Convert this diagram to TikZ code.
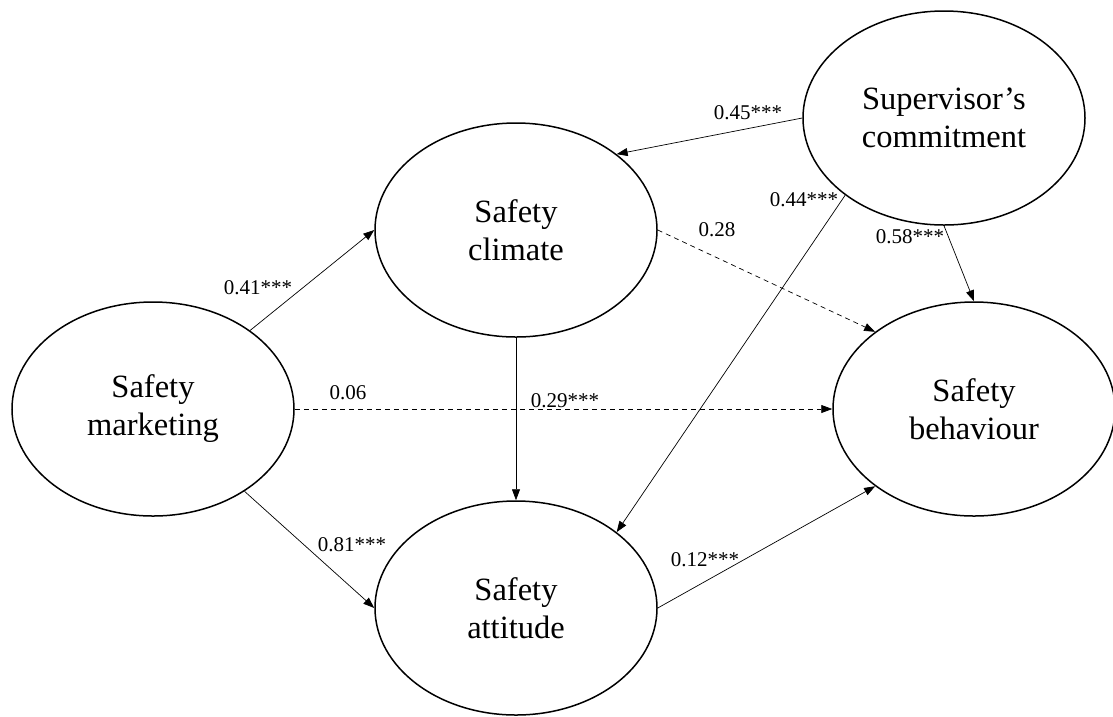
\documentclass[tikz,border=0pt]{standalone}
\usepackage{fontspec}
\setmainfont{Liberation Serif}
\usetikzlibrary{shapes.geometric,arrows.meta}

\begin{document}
\begin{tikzpicture}[x=10pt,y=10pt]
		\tikzstyle{construct}=[draw=black, ellipse, line width=1.5pt, minimum width=282pt, minimum height=214pt, inner sep=0pt, align=center, font=\fontsize{32.5}{38}\selectfont]
		\tikzstyle{effect}=[draw=black, line width=0.7pt, -{Triangle[length=11pt,width=8pt]}]
		\tikzstyle{weak}=[effect, dash pattern=on 5pt off 4pt]
		\tikzstyle{coef}=[font=\fontsize{21}{24}\selectfont, inner sep=0pt]
		\useasboundingbox (0,0) rectangle (111.3,-71.6);
		\node [construct] (mkt) at (15.3,-40.9) {Safety\\marketing};
		\node [construct] (clim) at (51.6,-23.0) {Safety\\climate};
		\node [construct] (sup) at (94.4,-11.8) {Supervisor's\\commitment};
		\node [construct] (beh) at (97.4,-40.9) {Safety\\behaviour};
		\node [construct] (att) at (51.6,-60.8) {Safety\\attitude};
		\draw [effect] (mkt) -- (clim.west);
		\draw [effect] (mkt) -- (att.west);
		\draw [weak] (mkt.east) -- (beh.west);
		\draw [effect] (clim.south) -- (att.north);
		\draw [weak] (clim.east) -- (beh.142);
		\draw [effect] (sup.west) -- (clim.37);
		\draw [effect] (sup.218) -- (att.37);
		\draw [effect] (sup.south) -- (beh.north);
		\draw [effect] (att.east) -- (beh.218);
		\node [coef] (c41) at (25.8,-28.8) {0.41***};
		\node [coef] (c81) at (35.2,-54.5) {0.81***};
		\node [coef] (c06) at (34.8,-39.3) {0.06};
		\node [coef] (c29) at (56.5,-40.1) {0.29***};
		\node [coef] (c28) at (71.7,-23.0) {0.28};
		\node [coef] (c45) at (74.8,-11.3) {0.45***};
		\node [coef] (c44) at (80.4,-20.0) {0.44***};
		\node [coef] (c58) at (91.0,-23.7) {0.58***};
		\node [coef] (c12) at (70.5,-56.0) {0.12***};
\end{tikzpicture}
\end{document}
